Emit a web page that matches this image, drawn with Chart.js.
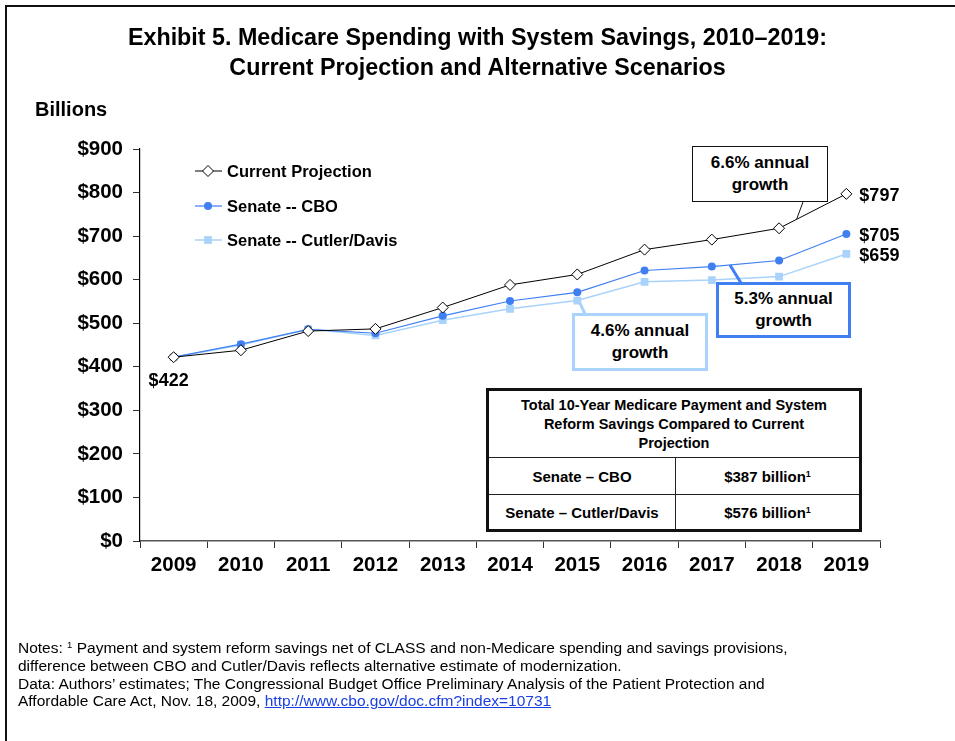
<!DOCTYPE html>
<html>
<head>
<meta charset="utf-8">
<script src="https://cdn.jsdelivr.net/npm/chart.js@4.4.1/dist/chart.umd.min.js"></script>
<style>
body { margin: 0; background: #fff; font-family: "Liberation Sans", Arial, sans-serif; color: #000; }
#wrap { position: relative; width: 955px; height: 741px; overflow: hidden; background: #fff; }
#frame { position: absolute; left: 5px; top: 5px; width: 1100px; height: 900px; border: 2px solid #111; }
#chart { position: absolute; left: 0; top: 0; }
.title { position: absolute; left: 0; width: 955px; text-align: center; font-weight: bold; font-size: 23.3px; line-height: 30px; }
.ylab { position: absolute; left: 35px; top: 98px; font-weight: bold; font-size: 20px; }
.callout { position: absolute; box-sizing: border-box; background: #fff; display: flex; align-items: center; justify-content: center;
  text-align: center; font-weight: bold; font-size: 17px; line-height: 22px; }
#tbl { position: absolute; left: 486px; top: 388px; width: 376px; border-collapse: collapse; table-layout: fixed;
  border: 3px solid #111; background: #fff; font-weight: bold; font-size: 15px; }
#tbl td { border: 1.5px solid #222; text-align: center; padding: 0; }
#tbl td.head { font-size: 14.5px; line-height: 19px; }
#tbl sup { font-size: 9px; vertical-align: 5px; }
.notes { position: absolute; left: 18px; top: 636px; font-size: 15.5px; line-height: 17.8px; }
.notes sup { font-size: 9.5px; vertical-align: 5px; }
.notes a { color: #1a3fe0; }
</style>
</head>
<body>
<div id="wrap">
  <div id="frame"></div>
  <canvas id="chart" width="955" height="741"></canvas>
  <div class="title" style="top:22px">Exhibit 5. Medicare Spending with System Savings, 2010–2019:</div>
  <div class="title" style="top:52px">Current Projection and Alternative Scenarios</div>
  <div class="ylab">Billions</div>

  <div class="callout" style="left:692px; top:146px; width:136px; height:56px; border:1.5px solid #111;">6.6% annual<br>growth</div>
  <div class="callout" style="left:716px; top:282px; width:135px; height:56px; border:3px solid #3f7ff2;">5.3% annual<br>growth</div>
  <div class="callout" style="left:572px; top:313px; width:136px; height:58px; border:3px solid #a9d3fa;">4.6% annual<br>growth</div>

  <table id="tbl">
    <colgroup><col style="width:188px"><col></colgroup>
    <tr style="height:68px"><td colspan="2" class="head">Total 10-Year Medicare Payment and System<br>Reform Savings Compared to Current<br>Projection</td></tr>
    <tr style="height:37px"><td>Senate – CBO</td><td>$387 billion<sup>1</sup></td></tr>
    <tr style="height:36px"><td>Senate – Cutler/Davis</td><td>$576 billion<sup>1</sup></td></tr>
  </table>

  <div class="notes">
    Notes: <sup>1</sup> Payment and system reform savings net of CLASS and non-Medicare spending and savings provisions,<br>
    difference between CBO and Cutler/Davis reflects alternative estimate of modernization.<br>
    Data: Authors’ estimates; The Congressional Budget Office Preliminary Analysis of the Patient Protection and<br>
    Affordable Care Act, Nov. 18, 2009, <a href="#">http://www.cbo.gov/doc.cfm?index=10731</a>
  </div>
</div>

<script>
const years = ['2009', '2010', '2011', '2012', '2013', '2014', '2015', '2016', '2017', '2018', '2019'];
const currentProjection = [422, 438, 482, 487, 536, 588, 612, 669, 692, 718, 797];
const senateCbo = [422, 452, 486, 477, 517, 551, 571, 621, 630, 644, 705];
const senateCutlerDavis = [422, 450, 486, 472, 507, 533, 552, 595, 599, 607, 659];
const yTickLabels = ['$0', '$100', '$200', '$300', '$400', '$500', '$600', '$700', '$800', '$900'];

const FONT = '"Liberation Sans", Arial, sans-serif';
const BLUE = '#3f7ff2';
const LIGHT = '#a9d3fa';

// legend, end labels and callout leader lines
const extras = {
    id: 'extras',
    afterDatasetsDraw(chart) {
        const ctx = chart.ctx;
        const xs = chart.scales.x, ys = chart.scales.y;
        ctx.save();

        // legend inside plot
        const rows = [
            { label: 'Current Projection', y: 171 },
            { label: 'Senate -- CBO', y: 206 },
            { label: 'Senate -- Cutler/Davis', y: 240 }
        ];
        rows.forEach(r => {
            const d = chart.data.datasets.find(ds => ds.label === r.label);
            ctx.strokeStyle = d.borderColor;
            ctx.lineWidth = d.borderWidth;
            ctx.beginPath(); ctx.moveTo(195, r.y); ctx.lineTo(222, r.y); ctx.stroke();
            ctx.fillStyle = d.pointBackgroundColor;
            ctx.strokeStyle = d.pointBorderColor;
            ctx.lineWidth = d.pointBorderWidth || 1;
            Chart.helpers.drawPoint(ctx, {
                pointStyle: d.pointStyle, radius: d.pointRadius, borderWidth: d.pointBorderWidth
            }, 208, r.y);
            ctx.fillStyle = '#000';
            ctx.font = 'bold 16.5px ' + FONT;
            ctx.textBaseline = 'middle';
            ctx.textAlign = 'left';
            ctx.fillText(r.label, 227, r.y + 1);
        });

        // end value labels
        const last = years.length - 1;
        ctx.fillStyle = '#000';
        ctx.font = 'bold 18px ' + FONT;
        ctx.textBaseline = 'middle';
        ctx.textAlign = 'left';
        [currentProjection, senateCbo, senateCutlerDavis].forEach(arr => {
            const px = xs.getPixelForValue(last), py = ys.getPixelForValue(arr[last]);
            ctx.fillText('$' + arr[last], px + 13, py + 2);
        });
        ctx.textAlign = 'center';
        ctx.fillText('$' + currentProjection[0], xs.getPixelForValue(0) - 5, ys.getPixelForValue(currentProjection[0]) + 24);

        // leader lines from the series to the callout boxes
        function along(arr, i, t) {
            const x0 = xs.getPixelForValue(i), x1 = xs.getPixelForValue(i + 1);
            const y0 = ys.getPixelForValue(arr[i]), y1 = ys.getPixelForValue(arr[i + 1]);
            return [x0 + (x1 - x0) * t, y0 + (y1 - y0) * t];
        }
        function leader(p, bx, by, color, w) {
            ctx.strokeStyle = color; ctx.lineWidth = w;
            ctx.beginPath(); ctx.moveTo(p[0], p[1]); ctx.lineTo(bx, by); ctx.stroke();
        }
        leader(along(currentProjection, 9, 0.26), 803, 202, '#111', 1);
        leader(along(senateCbo, 8, 0.27), 741, 283, BLUE, 3);
        leader(along(senateCutlerDavis, 6, 0.02), 585, 314, LIGHT, 3);

        ctx.restore();
    }
};

new Chart(document.getElementById('chart'), {
    type: 'line',
    data: {
        labels: years,
        datasets: [
            {
                label: 'Senate -- Cutler/Davis',
                data: senateCutlerDavis,
                borderColor: LIGHT,
                borderWidth: 1.5,
                pointStyle: 'rect',
                pointRadius: 5.5,
                pointBorderWidth: 0,
                pointBackgroundColor: LIGHT,
                pointBorderColor: LIGHT,
                order: 3
            },
            {
                label: 'Senate -- CBO',
                data: senateCbo,
                borderColor: BLUE,
                borderWidth: 1.2,
                pointStyle: 'circle',
                pointRadius: 4,
                pointBorderWidth: 0,
                pointBackgroundColor: BLUE,
                pointBorderColor: BLUE,
                order: 2
            },
            {
                label: 'Current Projection',
                data: currentProjection,
                borderColor: '#000',
                borderWidth: 1,
                pointStyle: 'rectRot',
                pointRadius: 5.5,
                pointBorderWidth: 1,
                pointBackgroundColor: '#fff',
                pointBorderColor: '#000',
                order: 1
            }
        ]
    },
    options: {
        responsive: false,
        animation: false,
        events: [],
        layout: { padding: { left: 0, top: 149, right: 75, bottom: 0 } },
        plugins: { legend: { display: false }, tooltip: { enabled: false } },
        scales: {
            x: {
                offset: true,
                grid: { offset: true, drawOnChartArea: false, drawTicks: true, tickLength: 7, color: '#333' },
                border: { color: '#555', width: 1.5 },
                ticks: { color: '#000', padding: 5, maxRotation: 0, font: { family: FONT, size: 20.5, weight: 'bold' } },
                afterFit(s) { s.height = 200; }
            },
            y: {
                min: 0,
                max: 900,
                grid: { drawOnChartArea: false, drawTicks: true, tickLength: 7, color: '#333' },
                border: { color: '#000', width: 1.2 },
                ticks: {
                    stepSize: 100,
                    color: '#000',
                    padding: 10,
                    font: { family: FONT, size: 20.5, weight: 'bold' },
                    callback: (v, i) => yTickLabels[i]
                },
                afterFit(s) { s.width = 140; }
            }
        }
    },
    plugins: [extras]
});
</script>
</body>
</html>
